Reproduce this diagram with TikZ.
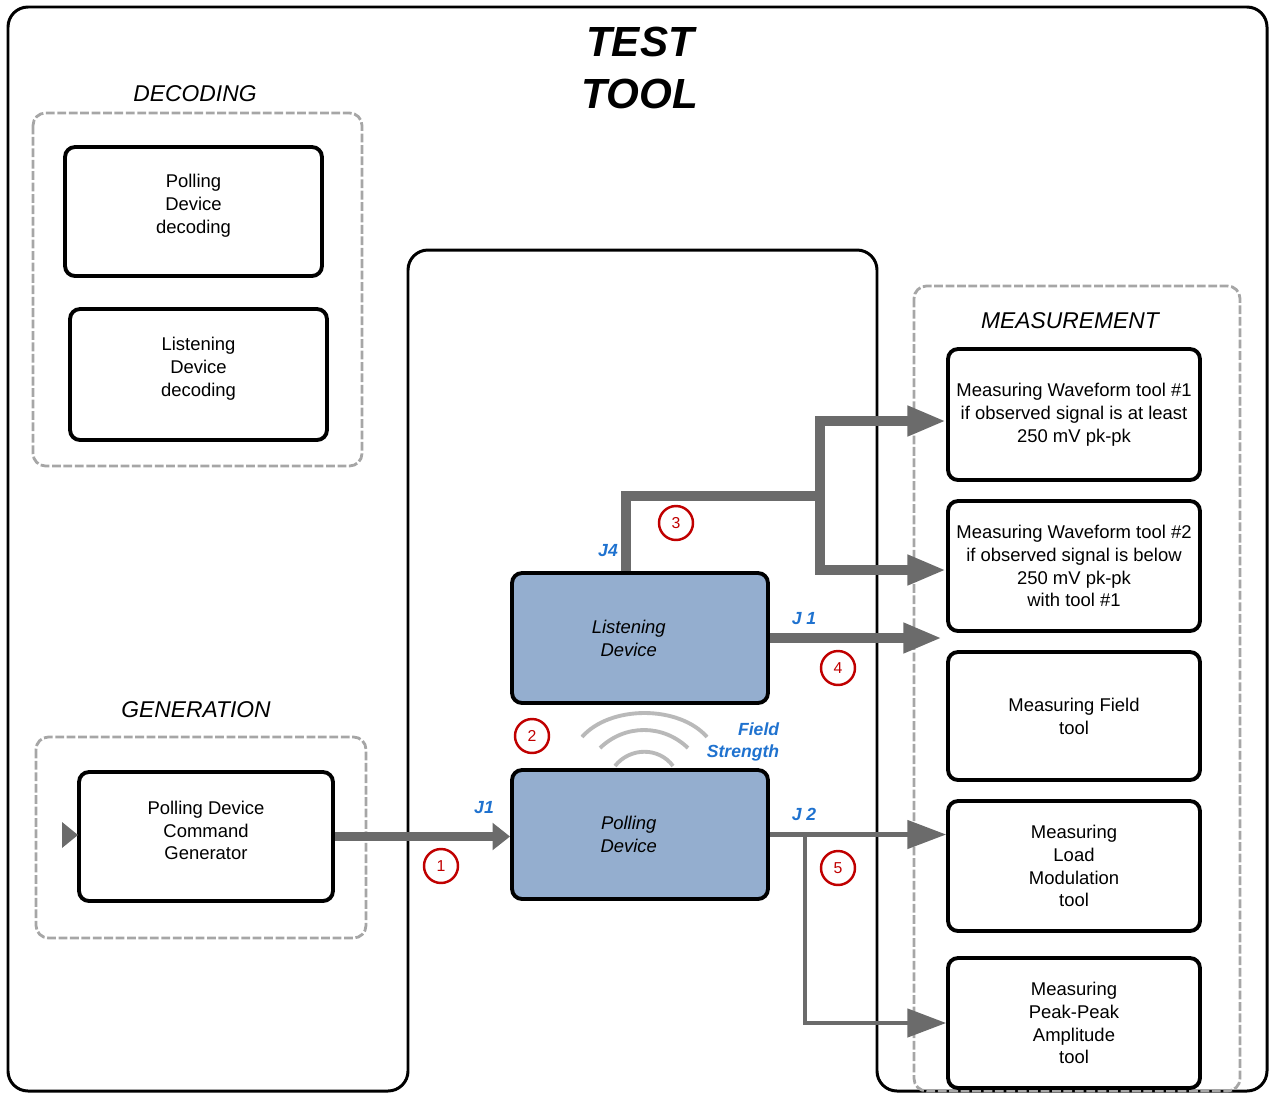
\documentclass[tikz,border=0pt]{standalone}
\usepackage{fontspec}
\setmainfont{Liberation Sans}
\usetikzlibrary{arrows.meta}
\definecolor{devblue}{HTML}{94AECF}
\definecolor{jblue}{HTML}{1F72CF}
\definecolor{arrowgray}{HTML}{6B6B6B}
\definecolor{numred}{HTML}{C00000}

\begin{document}
\begin{tikzpicture}[x=0.02cm, y=-0.02cm,
	toolbox/.style={draw, line width=2.2pt, rounded corners=0.2cm, align=center, font=\fontsize{10.5}{13}\selectfont},
	device/.style={toolbox, fill=devblue, font=\fontsize{10.5}{13}\selectfont\itshape},
	group/.style={draw=gray!70, line width=1.6pt, dash pattern=on 5pt off 1.5pt, rounded corners=0.25cm},
	heading/.style={font=\fontsize{13}{15}\selectfont\itshape},
	jlabel/.style={text=jblue, font=\fontsize{10}{12.5}\selectfont\bfseries\itshape},
	num/.style={circle, draw=numred, line width=1.4pt, text=numred, font=\fontsize{9}{9}\selectfont, minimum size=0.68cm, inner sep=0pt},
	fatline/.style={draw=arrowgray, line width=5.5pt},
	fatarrow/.style={fatline, -{Triangle[length=22pt,width=16pt]}},
	thinarrow/.style={draw=arrowgray, line width=2.3pt, -{Triangle[length=22pt,width=16pt]}},
	wave/.style={draw=gray!55, line width=2.2pt}]
	\useasboundingbox (0,0) rectangle (1269,1093);

	\draw[line width=1.7pt, rounded corners=0.4cm] (408,1091) -- (408,250) -- (877,250) -- (877,1091) -- (1267,1091) -- (1267,7) -- (8,7) -- (8,1091) -- cycle;
	\node[align=center, font=\fontsize{24}{30}\selectfont\bfseries\itshape] (title) at (640,68) {TEST\\TOOL};

	\node[heading] (dectitle) at (195,94) {DECODING};
	\draw[group] (33,113) rectangle (362,466);
	\node[toolbox, minimum width=5.14cm, minimum height=2.58cm] (pdd) at (193.5,211.5) {Polling\\Device\\decoding\\[-4pt]};
	\node[toolbox, minimum width=5.14cm, minimum height=2.62cm] (ldd) at (198.5,374.5) {Listening\\Device\\decoding\\[-4pt]};

	\node[heading] (gentitle) at (196,710) {GENERATION};
	\draw[group] (36,737) rectangle (366,938);
	\node[toolbox, minimum width=5.08cm, minimum height=2.58cm] (gen) at (206,836.5) {Polling Device\\Command\\Generator\\[-6pt]};
	\fill[arrowgray] (62,822) -- (78,835) -- (62,848) -- cycle;

	\node[device, minimum width=5.12cm, minimum height=2.6cm] (ld) at (640,638) {Listening\hspace*{0.45cm}\\Device\hspace*{0.45cm}};
	\node[device, minimum width=5.12cm, minimum height=2.58cm] (pd) at (640,834.5) {Polling\hspace*{0.45cm}\\Device\hspace*{0.45cm}};
	\draw[wave] (582,737) .. controls (610,705) and (679,705) .. (707,737);
	\draw[wave] (600,748) .. controls (625,724) and (663,724) .. (688,748);
	\draw[wave] (615,766) .. controls (630,747) and (659,747) .. (673,766);

	\draw[group] (914,286) rectangle (1240,1091);
	\node[heading] (meastitle) at (1070,321) {MEASUREMENT};
	\node[toolbox, minimum width=5.04cm, minimum height=2.62cm] (mw1) at (1074,414.5) {Measuring Waveform tool \#1\\if observed signal is at least\\250 mV pk-pk};
	\node[toolbox, minimum width=5.04cm, minimum height=2.6cm] (mw2) at (1074,566) {Measuring Waveform tool \#2\\if observed signal is below\\250 mV pk-pk\\with tool \#1};
	\node[toolbox, minimum width=5.04cm, minimum height=2.56cm] (mf) at (1074,716) {Measuring Field\\tool};
	\node[toolbox, minimum width=5.04cm, minimum height=2.6cm] (lm) at (1074,866) {Measuring\\Load\\Modulation\\tool};
	\node[toolbox, minimum width=5.04cm, minimum height=2.6cm] (pp) at (1074,1023) {Measuring\\Peak-Peak\\Amplitude\\tool};

	% connections
	\coordinate (j4) at (626,496);
	\coordinate (fork) at (820,496);
	\coordinate (j1end) at (942,641);
	\coordinate (j2x) at (805,900);
	\draw[fatline, -{Triangle[length=10pt,width=15pt]}] (gen.east) -- (gen.east -| pd.west);
	\draw[fatline] (ld.north -| j4) -- (j4) -- (fork);
	\draw[fatarrow] (fork) |- ([yshift=-0.13cm]mw1.west);
	\draw[fatarrow] (fork) |- ([yshift=-0.08cm]mw2.west);
	\draw[fatarrow] (ld.east) -- (ld.east -| j1end);
	\draw[thinarrow] (pd.east) -- (pd.east -| lm.west);
	\draw[thinarrow] (pd.east -| j2x) |- (pp.west);

	\node[jlabel] (lj1) at (484,808) {J1};
	\node[jlabel] (lj4) at (608,551) {J4};
	\node[jlabel] (lj1b) at (804,619) {J 1};
	\node[jlabel] (lj2) at (804,814) {J 2};
	\node[jlabel, align=right] (field) at (743,742) {Field\\Strength};

	\node[num] (n1) at (441,866) {1};
	\node[num] (n2) at (532,736) {2};
	\node[num] (n3) at (676,523) {3};
	\node[num] (n4) at (838,668) {4};
	\node[num] (n5) at (838,868) {5};
\end{tikzpicture}
\end{document}
